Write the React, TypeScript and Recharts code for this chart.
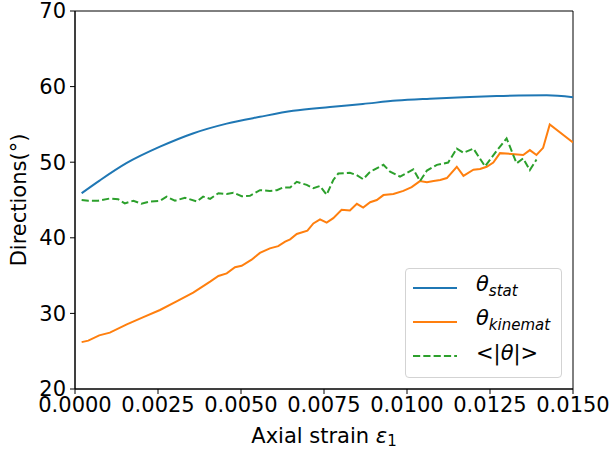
import React from 'react';
import { LineChart, Line, XAxis, YAxis, Legend, ReferenceArea } from 'recharts';

// theta_stat
const statStrain = [0.0002, 0.00075, 0.00156, 0.00256, 0.00355, 0.00457, 0.00557, 0.00657, 0.00768, 0.00867, 0.00969, 0.01069, 0.01169, 0.0127, 0.01421, 0.015];
const statValues = [45.9, 47.6, 49.9, 52.05, 53.8, 55.1, 56.0, 56.8, 57.3, 57.7, 58.15, 58.4, 58.6, 58.75, 58.85, 58.6];

// theta_kinemat
const kinStrain = [0.0002, 0.0004, 0.00073, 0.00105, 0.00156, 0.00206, 0.00256, 0.00306, 0.00356, 0.00407, 0.00432, 0.00457, 0.00482, 0.00502, 0.00532, 0.00557, 0.00587, 0.00612, 0.00633, 0.00648, 0.00668, 0.007, 0.00718, 0.00738, 0.00758, 0.00778, 0.00803, 0.00828, 0.00849, 0.00868, 0.00889, 0.00909, 0.00929, 0.00959, 0.00989, 0.01014, 0.01039, 0.0106, 0.0108, 0.011, 0.0112, 0.0115, 0.0117, 0.012, 0.0122, 0.0124, 0.0126, 0.0128, 0.01315, 0.0135, 0.0137, 0.0139, 0.0141, 0.0143, 0.015];
const kinValues = [26.2, 26.4, 27.1, 27.45, 28.55, 29.5, 30.45, 31.6, 32.75, 34.2, 34.95, 35.3, 36.1, 36.3, 37.1, 38.0, 38.6, 38.9, 39.5, 39.8, 40.5, 40.95, 41.9, 42.45, 42.0, 42.6, 43.7, 43.6, 44.5, 44.0, 44.7, 45.0, 45.65, 45.8, 46.2, 46.7, 47.5, 47.35, 47.5, 47.65, 47.9, 49.4, 48.2, 49.0, 49.1, 49.4, 49.95, 51.2, 51.1, 50.95, 51.6, 50.95, 51.9, 55.0, 52.6];

// <|theta|>
const avgStrain = [0.0002, 0.0004, 0.0007, 0.00105, 0.0013, 0.0015, 0.00176, 0.002, 0.00226, 0.00256, 0.00276, 0.00301, 0.00331, 0.00367, 0.00386, 0.00407, 0.00432, 0.00457, 0.00477, 0.00502, 0.00527, 0.00557, 0.00587, 0.00608, 0.00627, 0.00648, 0.00668, 0.00698, 0.00718, 0.00738, 0.00758, 0.00778, 0.00793, 0.00828, 0.00848, 0.00868, 0.00886, 0.009, 0.00929, 0.00949, 0.00979, 0.01019, 0.01039, 0.0106, 0.0109, 0.01124, 0.0115, 0.0117, 0.012, 0.01235, 0.0127, 0.013, 0.0133, 0.0135, 0.0137, 0.0139];
const avgValues = [45.0, 44.9, 44.9, 45.2, 45.1, 44.55, 44.9, 44.5, 44.8, 44.9, 45.45, 44.9, 45.3, 44.8, 45.45, 45.15, 45.9, 45.8, 45.97, 45.5, 45.55, 46.3, 46.2, 46.3, 46.65, 46.65, 47.4, 47.0, 46.55, 46.85, 45.7, 47.65, 48.5, 48.6, 48.3, 47.75, 48.6, 49.0, 49.65, 48.75, 48.1, 49.05, 47.5, 48.9, 49.65, 49.95, 51.8, 51.25, 51.8, 49.45, 51.5, 53.15, 49.85, 50.5, 48.95, 50.35];

const xTicks = [0, 0.0025, 0.005, 0.0075, 0.01, 0.0125, 0.015];
const yTicks = [20, 30, 40, 50, 60, 70];
const xDomain: [number, number] = [0, 0.015];
const yDomain: [number, number] = [20, 70];

const BLUE = '#1f77b4';
const ORANGE = '#ff7f0e';
const GREEN = '#2ca02c';
const FONT = '"DejaVu Sans", sans-serif';
const FS = 21;

const statData = statStrain.map((x, i) => ({ x, y: statValues[i] }));
const kinData = kinStrain.map((x, i) => ({ x, y: kinValues[i] }));
const avgData = avgStrain.map((x, i) => ({ x, y: avgValues[i] }));

const italic: React.CSSProperties = { fontStyle: 'italic' };
const sub: React.CSSProperties = { fontStyle: 'italic', fontSize: 15, position: 'relative', top: 5 };

const legendRows = [
  { color: BLUE, dash: undefined as string | undefined, label: <span><span style={italic}>θ</span><span style={sub}>stat</span></span> },
  { color: ORANGE, dash: undefined as string | undefined, label: <span><span style={italic}>θ</span><span style={sub}>kinemat</span></span> },
  { color: GREEN, dash: '7.2 3.1', label: <span>&lt;|<span style={italic}>θ</span>|&gt;</span> },
];

const LegendBox = () => (
  <div
    style={{
      boxSizing: 'border-box',
      width: 157,
      height: 110,
      border: '1px solid #d3d3d3',
      borderRadius: 4,
      background: 'rgba(255,255,255,0.85)',
      paddingTop: 2,
      paddingLeft: 7,
      fontFamily: FONT,
      fontSize: FS,
      color: '#000',
    }}
  >
    {legendRows.map((r, i) => (
      <div key={i} style={{ height: 34, display: 'flex', alignItems: 'center' }}>
        <svg width={44} height={6} style={{ display: 'block', marginRight: 19 }}>
          <line x1={0} y1={3} x2={44} y2={3} stroke={r.color} strokeWidth={2} strokeDasharray={r.dash} />
        </svg>
        <div style={{ lineHeight: '21px', position: 'relative', top: -3, whiteSpace: 'nowrap' }}>{r.label}</div>
      </div>
    ))}
  </div>
);

const XLabel = (props: any) => {
  const vb = props.viewBox || {};
  const cx = vb.x + vb.width / 2;
  const y = vb.y + 54;
  return (
    <text x={cx} y={y} textAnchor="middle" fontFamily={FONT} fontSize={FS} fill="#000">
      <tspan>Axial strain </tspan>
      <tspan fontStyle="italic">ε</tspan>
      <tspan fontSize={15} dy={3}>1</tspan>
    </text>
  );
};

const YLabel = (props: any) => {
  const vb = props.viewBox || {};
  const x = vb.x + 26;
  const cy = vb.y + vb.height / 2;
  return (
    <text x={x} y={cy} textAnchor="middle" fontFamily={FONT} fontSize={FS} fill="#000" transform={`rotate(-90, ${x}, ${cy})`}>
      Directions(°)
    </text>
  );
};

const tickStyle = { fontFamily: FONT, fontSize: FS, fill: '#000' };

export default function App() {
  return (
    <div style={{ position: 'absolute', left: 0, top: 0, width: 609, height: 449, background: '#fff' }}>
      <LineChart
        width={609}
        height={449}
        margin={{ top: 11, right: 36, left: 0, bottom: 0 }}
        style={{ overflow: 'visible' }}
      >
        <XAxis
          dataKey="x"
          type="number"
          domain={xDomain}
          allowDataOverflow
          ticks={xTicks}
          tickFormatter={(v: number) => v.toFixed(4)}
          tick={tickStyle}
          tickSize={5}
          tickMargin={3}
          height={60}
          axisLine={{ stroke: '#000', strokeWidth: 1 }}
          tickLine={{ stroke: '#000', strokeWidth: 1 }}
          interval={0}
          label={<XLabel />}
        />
        <YAxis
          type="number"
          domain={yDomain}
          allowDataOverflow
          ticks={yTicks}
          tick={tickStyle}
          tickSize={5}
          tickMargin={4}
          width={75}
          axisLine={{ stroke: '#000', strokeWidth: 1 }}
          tickLine={{ stroke: '#000', strokeWidth: 1 }}
          interval={0}
          label={<YLabel />}
        />
        <ReferenceArea
          x1={xDomain[0]}
          x2={xDomain[1]}
          y1={yDomain[0]}
          y2={yDomain[1]}
          fill="none"
          fillOpacity={0}
          stroke="#000"
          strokeWidth={1}
          ifOverflow="visible"
        />
        <Line data={statData} dataKey="y" name="stat" type="monotone" stroke={BLUE} strokeWidth={2} dot={false} isAnimationActive={false} />
        <Line data={kinData} dataKey="y" name="kinemat" type="linear" stroke={ORANGE} strokeWidth={2} dot={false} isAnimationActive={false} />
        <Line data={avgData} dataKey="y" name="avg" type="linear" stroke={GREEN} strokeWidth={2} strokeDasharray="7.2 3.1" dot={false} isAnimationActive={false} />
        <Legend
          layout="vertical"
          align="center"
          verticalAlign="middle"
          content={<LegendBox />}
          wrapperStyle={{ left: 405, top: 268, width: 157, height: 110 }}
        />
      </LineChart>
    </div>
  );
}
